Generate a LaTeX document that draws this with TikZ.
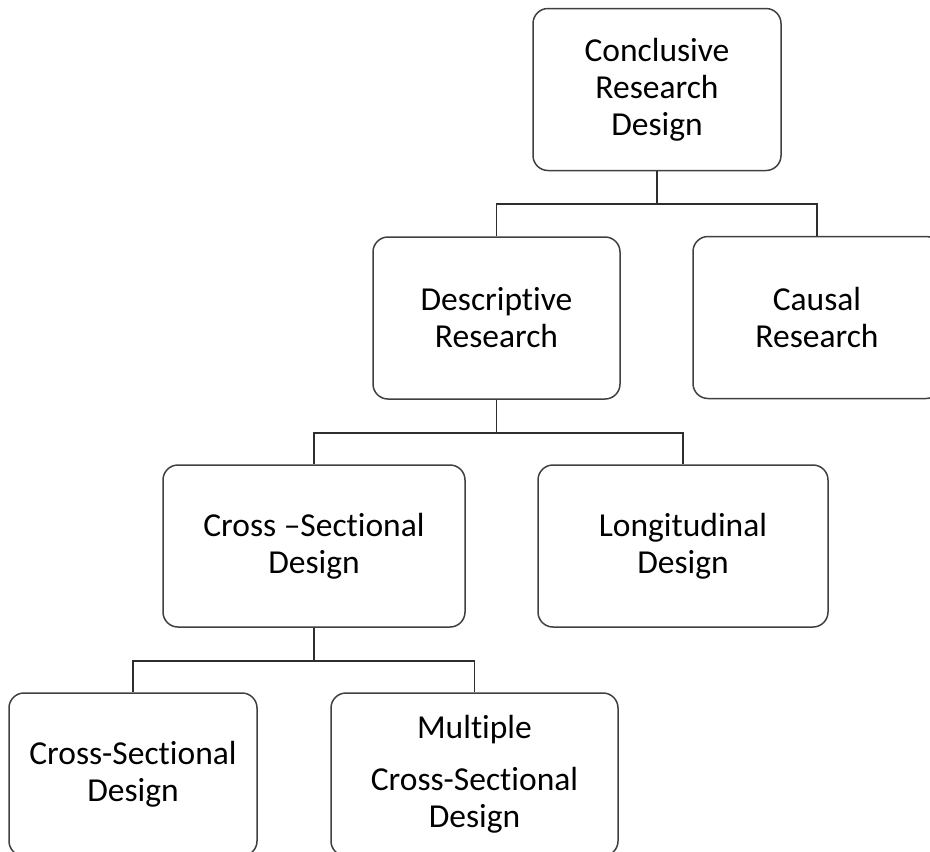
\documentclass[tikz,border=0pt]{standalone}
\usepackage{fontspec}
\setmainfont{Carlito}[Ligatures={NoCommon,NoRare,NoContextual}]
\usepackage{tikz}
\usetikzlibrary{positioning,calc}
\definecolor{dboxline}{HTML}{404040}
\definecolor{dedgeline}{HTML}{2E2E2E}
\tikzset{dbox/.style={rectangle, rounded corners=15pt, draw=dboxline, line width=1.5pt, fill=white, minimum height=162pt, align=center, inner sep=0pt, font=\fontsize{33.5}{37}\selectfont}}
\tikzset{dedge/.style={draw=dedgeline, line width=1.8pt}}

\begin{document}
\begin{tikzpicture}[x=1pt, y=-1pt]
  \useasboundingbox (0,0) rectangle (930,852);

  \node[dbox, minimum width=248pt] (conclusive) at (657,89.5) {Conclusive\\Research\\Design};
  \node[dbox, minimum width=247pt] (descriptive) at (496.5,318) {Descriptive\\Research};
  \node[dbox, minimum width=248pt] (causal) at (817,317.5) {Causal\\Research};
  \node[dbox, minimum width=302pt] (crossmid) at (314,546) {Cross –Sectional\\Design};
  \node[dbox, minimum width=290pt] (longitudinal) at (683,546) {Longitudinal\\Design};
  \node[dbox, minimum width=248pt, minimum height=163pt] (crossbot) at (133,774.5) {Cross-Sectional\\Design};
  \node[dbox, minimum width=287pt, minimum height=163pt] (multiple) at (474.5,774.5) {Multiple\\[15pt]Cross-Sectional\\Design};

  % elbow connectors
  \draw[dedge] (conclusive.south) -- ++(0,32.5) coordinate (bar1);
  \draw[dedge] (descriptive.north) |- (bar1) -| (causal.north);

  \draw[dedge] (descriptive.south) -- ++(0,33) coordinate (bar2);
  \draw[dedge] (crossmid.north) |- (bar2) -| (longitudinal.north);

  \draw[dedge] (crossmid.south) -- ++(0,33) coordinate (bar3);
  \draw[dedge] (crossbot.north) |- (bar3) -| (multiple.north);
\end{tikzpicture}
\end{document}
